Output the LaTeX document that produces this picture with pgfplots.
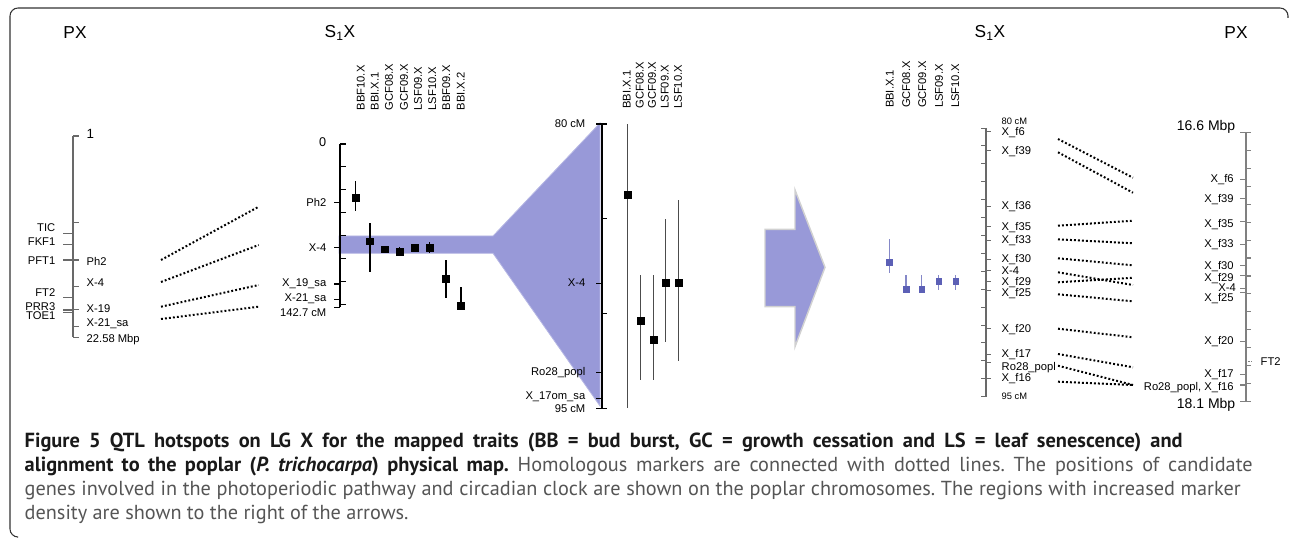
\documentclass[border=0pt]{standalone}
\usepackage{pgfplots}
\usepackage{pgfplotstable}
\pgfplotsset{compat=1.18}
\usepackage{fontspec}
\setmainfont{Liberation Sans}
\newfontfamily\capfont{PT Sans}
\frenchspacing

\definecolor{band}{RGB}{152,153,216}
\definecolor{qblue}{RGB}{92,96,182}
\definecolor{chrgray}{RGB}{105,105,105}
\definecolor{capgray}{RGB}{85,85,85}

% QTL positions (cM): x position of column, peak, interval start, interval end
\pgfplotstableread{
x c lo hi
355.3 46.6 32.3 58.3
370.0 85.0 68.8 111.6
384.7 92.0 89.1 93.5
399.7 93.8 90.0 95.2
414.7 90.6 88.3 92.6
429.7 90.6 85.6 95.2
446.0 118.0 101.4 134.8
461.0 141.6 124.7 141.6
}\qtlall
\pgfplotstableread{
x c lo hi
627.3 83.75 80.0 95.0
640.7 90.40 87.97 93.50
653.3 91.40 87.97 93.50
665.3 88.37 85.00 91.49
678.7 88.37 84.00 92.49
}\qtlzoom
\pgfplotstableread{
x c lo hi
889.3 87.51 86.21 88.07
906.0 89.00 88.20 89.00
921.7 89.00 88.20 89.00
938.7 88.57 88.20 89.04
955.7 88.57 88.20 89.04
}\qtlsmall

\newcommand{\lab}{\fontsize{8.4}{9}\selectfont}
\newcommand{\ttl}{\fontsize{13}{14}\selectfont}
\newcommand{\capreg}{\capfont\fontsize{15.2}{17}\selectfont}
\newcommand{\capbf}{\capfont\bfseries\fontsize{15.3}{17}\selectfont}

\begin{document}
\begin{tikzpicture}
\begin{axis}[
  scale only axis, width=967.5pt, height=403.5pt,
  xmin=0, xmax=1290, ymin=0, ymax=538, y dir=reverse,
  hide axis, clip=false,
  every node/.append style={inner sep=0pt},
]
\path (axis cs:0,0) rectangle (axis cs:1290,538);

% frame
\draw[black!80, line width=0.8pt, rounded corners=6pt]
  (axis cs:1288,18) -- (axis cs:1288,8) -- (axis cs:10,8) -- (axis cs:10,537) -- (axis cs:17,537);

% titles
\node[font=\ttl] at (axis cs:75,33) {PX};
\node[font=\ttl] at (axis cs:340,33) {S\textsubscript{1}X};
\node[font=\ttl] at (axis cs:990,33) {S\textsubscript{1}X};
\node[font=\ttl] at (axis cs:1236,33) {PX};

% hotspot band and zoom wedge
\addplot[fill=band, draw=band!70, line width=0.6pt] coordinates {
  (339,236) (493,236) (600,123) (600,406) (493,253.3) (339,253.3)} -- cycle;

% arrow
\addplot[fill=band, draw=black!18, line width=1.1pt] coordinates {
  (765,229.3) (795,229.3) (795,190) (825,267.3) (795,346.7) (795,306.7) (765,306.7)} -- cycle;

% ---------- left PX chromosome ----------
\addplot[chrgray, line width=0.8pt] coordinates {(73,136) (73,337.3)};
\pgfplotsinvokeforeach{136,222.7,260,286.7,309.3,326.7,337.3}{
  \draw[chrgray, line width=0.8pt] (axis cs:73,#1) -- (axis cs:79,#1);}
\pgfplotsinvokeforeach{233.3,244.3,260,297.3,310,312.5}{
  \draw[chrgray, line width=0.8pt] (axis cs:63,#1) -- (axis cs:73,#1);}
\node[anchor=mid west, font=\fontsize{10}{11}\selectfont] at (axis cs:82,135) {1};
\node[anchor=mid west, font=\lab] at (axis cs:82,262.3) {Ph2};
\node[anchor=mid west, font=\lab] at (axis cs:82,283) {X-4};
\node[anchor=mid west, font=\lab] at (axis cs:82,309.3) {X-19};
\node[anchor=mid west, font=\lab] at (axis cs:82,323) {X-21\_sa};
\node[anchor=mid west, font=\lab] at (axis cs:82,339) {22.58 Mbp};
\node[anchor=mid east, font=\lab] at (axis cs:60,227.7) {TIC};
\node[anchor=mid east, font=\lab] at (axis cs:60,241.7) {FKF1};
\node[anchor=mid east, font=\lab] at (axis cs:60,261) {PFT1};
\node[anchor=mid east, font=\lab] at (axis cs:60,292.7) {FT2};
\node[anchor=mid east, font=\lab] at (axis cs:60,307.3) {PRR3};
\node[anchor=mid east, font=\lab] at (axis cs:60,316) {TOE1};

% connectors PX -> S1X
\addplot[black, line width=1.5pt, dash pattern=on 1.4pt off 1.6pt] coordinates {(161,260) (258.7,206.7)};
\addplot[black, line width=1.5pt, dash pattern=on 1.4pt off 1.6pt] coordinates {(161,282) (258.7,245)};
\addplot[black, line width=1.5pt, dash pattern=on 1.4pt off 1.6pt] coordinates {(161,306.7) (258.7,285)};
\addplot[black, line width=1.5pt, dash pattern=on 1.4pt off 1.6pt] coordinates {(161,319) (258.7,306.7)};

% ---------- S1X full linkage group ----------
\addplot[black, line width=1.1pt] coordinates {(340,144) (340,307.3)};
\pgfplotsinvokeforeach{0,20,...,140}{
  \draw[black, line width=0.9pt] (axis cs:340,{144+#1*1.1444}) -- (axis cs:346,{144+#1*1.1444});}
\pgfplotsinvokeforeach{202.7,247.7,284,299.3,307.3}{
  \draw[black, line width=0.9pt] (axis cs:334,#1) -- (axis cs:340,#1);}
\node[anchor=mid east, font=\fontsize{9.5}{10}\selectfont] at (axis cs:331,143) {0};
\node[anchor=mid east, font=\lab] at (axis cs:331,203) {Ph2};
\node[anchor=mid east, font=\lab] at (axis cs:331,248) {X-4};
\node[anchor=mid east, font=\lab] at (axis cs:331,283) {X\_19\_sa};
\node[anchor=mid east, font=\lab] at (axis cs:331,298.3) {X-21\_sa};
\node[anchor=mid east, font=\lab] at (axis cs:331,312.7) {142.7 cM};
\addplot[only marks, mark=square*, mark size=2.6pt, black,
  error bars/.cd, y dir=both, y explicit, error mark=none,
  error bar style={line width=0.9pt, black}]
  table[x=x, y expr={144+\thisrow{c}*1.1444},
        y error plus expr={(\thisrow{hi}-\thisrow{c})*1.1444},
        y error minus expr={(\thisrow{c}-\thisrow{lo})*1.1444}] {\qtlall};
\foreach \px/\nm in {361/BBF10.X,375/BBI.X.1,389.3/GCF08.X,404.3/GCF09.X,418.3/LSF09.X,432.7/LSF10.X,446.7/BBF09.X,461/BBI.X.2}{
  \edef\tmp{\noexpand\node[rotate=90, anchor=mid west, font=\noexpand\lab] at (axis cs:\px,115) {\nm};}\tmp}

% ---------- S1X 80-95 cM zoom ----------
\addplot[black, line width=1.3pt] coordinates {(601.7,124) (601.7,408.3)};
\pgfplotsinvokeforeach{124,408.3}{
  \draw[black, line width=1pt] (axis cs:596,#1) -- (axis cs:607,#1);}
\pgfplotsinvokeforeach{283.3,372.3,398.3}{
  \draw[black, line width=1pt] (axis cs:596,#1) -- (axis cs:601.7,#1);}
\pgfplotsinvokeforeach{218.8,313.6}{
  \draw[black, line width=1pt] (axis cs:601.7,#1) -- (axis cs:607,#1);}
\node[anchor=mid east, font=\lab] at (axis cs:590,124) {80 cM};
\node[anchor=mid east, font=\lab] at (axis cs:590,283.3) {X-4};
\node[anchor=mid east, font=\lab] at (axis cs:590,371.7) {Ro28\_popl};
\node[anchor=mid east, font=\lab] at (axis cs:590,396) {X\_17om\_sa};
\node[anchor=mid east, font=\lab] at (axis cs:590,409) {95 cM};
\addplot[only marks, mark=square*, mark size=2.6pt, black,
  error bars/.cd, y dir=both, y explicit, error mark=none,
  error bar style={line width=1pt, black!70}]
  table[x=x, y expr={124+(\thisrow{c}-80)*18.95},
        y error plus expr={(\thisrow{hi}-\thisrow{c})*18.95},
        y error minus expr={(\thisrow{c}-\thisrow{lo})*18.95}] {\qtlzoom};
\foreach \px/\nm in {627/BBI.X.1,640/GCF08.X,652.3/GCF09.X,665/LSF09.X,678.3/LSF10.X}{
  \edef\tmp{\noexpand\node[rotate=90, anchor=mid west, font=\noexpand\lab] at (axis cs:\px,113.3) {\nm};}\tmp}

% ---------- right S1X (dense region) ----------
\addplot[only marks, mark=square*, mark size=2.2pt, qblue,
  error bars/.cd, y dir=both, y explicit, error mark=none,
  error bar style={line width=0.8pt, qblue!75}]
  table[x=x, y expr={128+(\thisrow{c}-80)*17.93},
        y error plus expr={(\thisrow{hi}-\thisrow{c})*17.93},
        y error minus expr={(\thisrow{c}-\thisrow{lo})*17.93}] {\qtlsmall};
\foreach \px/\nm in {890/BBI.X.1,906.7/GCF08.X,922.7/GCF09.X,939.3/LSF09.X,955.7/LSF10.X}{
  \edef\tmp{\noexpand\node[rotate=90, anchor=mid west, font=\noexpand\lab] at (axis cs:\px,112.7) {\nm};}\tmp}

\addplot[chrgray, line width=0.8pt] coordinates {(986,128) (986,396.7)};
\pgfplotsinvokeforeach{80,...,95}{
  \draw[chrgray, line width=0.7pt] (axis cs:981,{128+(#1-80)*17.913}) -- (axis cs:986,{128+(#1-80)*17.913});}
\pgfplotsinvokeforeach{131.7,150.7,206,226.7,240,259.3,270.7,281.7,290,328.7,354,362.7,378.3}{
  \draw[chrgray, line width=0.7pt] (axis cs:986,#1) -- (axis cs:991,#1);}
\node[anchor=mid west, font=\fontsize{7}{8}\selectfont] at (axis cs:997,120.7) {80 cM};
\node[anchor=mid west, font=\lab] at (axis cs:997,131.7) {X\_f6};
\node[anchor=mid west, font=\lab] at (axis cs:997,150.7) {X\_f39};
\node[anchor=mid west, font=\lab] at (axis cs:997,206) {X\_f36};
\node[anchor=mid west, font=\lab] at (axis cs:997,226.7) {X\_f35};
\node[anchor=mid west, font=\lab] at (axis cs:997,240) {X\_f33};
\node[anchor=mid west, font=\lab] at (axis cs:997,259.3) {X\_f30};
\node[anchor=mid west, font=\lab] at (axis cs:997,270.7) {X-4};
\node[anchor=mid west, font=\lab] at (axis cs:997,281.7) {X\_f29};
\node[anchor=mid west, font=\lab] at (axis cs:997,292.7) {X\_f25};
\node[anchor=mid west, font=\lab] at (axis cs:997,328.7) {X\_f20};
\node[anchor=mid west, font=\lab] at (axis cs:997,354) {X\_f17};
\node[anchor=mid west, font=\lab] at (axis cs:997,366.7) {Ro28\_popl};
\node[anchor=mid west, font=\lab] at (axis cs:997,378.3) {X\_f16};
\node[anchor=mid west, font=\fontsize{7}{8}\selectfont] at (axis cs:997,395.7) {95 cM};

% connectors S1X -> PX (dense region)
\addplot[black, line width=1.5pt, dash pattern=on 1.4pt off 1.6pt] coordinates {(1058,139) (1133,177.7)};
\addplot[black, line width=1.5pt, dash pattern=on 1.4pt off 1.6pt] coordinates {(1058,152.3) (1133,192.7)};
\addplot[black, line width=1.5pt, dash pattern=on 1.4pt off 1.6pt] coordinates {(1058,225.7) (1133,220.7)};
\addplot[black, line width=1.5pt, dash pattern=on 1.4pt off 1.6pt] coordinates {(1058,239.3) (1133,243.3)};
\addplot[black, line width=1.5pt, dash pattern=on 1.4pt off 1.6pt] coordinates {(1058,258.3) (1133,265.3)};
\addplot[black, line width=1.5pt, dash pattern=on 1.4pt off 1.6pt] coordinates {(1058,272.3) (1133,285)};
\addplot[black, line width=1.5pt, dash pattern=on 1.4pt off 1.6pt] coordinates {(1058,282.3) (1133,277.7)};
\addplot[black, line width=1.5pt, dash pattern=on 1.4pt off 1.6pt] coordinates {(1058,294.3) (1133,301.3)};
\addplot[black, line width=1.5pt, dash pattern=on 1.4pt off 1.6pt] coordinates {(1058,328.7) (1133,337.3)};
\addplot[black, line width=1.5pt, dash pattern=on 1.4pt off 1.6pt] coordinates {(1058,354) (1133,367.3)};
\addplot[black, line width=1.5pt, dash pattern=on 1.4pt off 1.6pt] coordinates {(1058,365.7) (1133,385)};
\addplot[black, line width=1.5pt, dash pattern=on 1.4pt off 1.6pt] coordinates {(1058,381.7) (1133,385)};

% ---------- right PX physical map (16.6-18.1 Mbp) ----------
\addplot[black!50, line width=1.3pt] coordinates {(1245.7,132.3) (1245.7,401.7)};
\pgfplotsinvokeforeach{0,...,15}{
  \draw[black!50, line width=0.8pt] (axis cs:1245.7,{132.3+#1*17.96}) -- (axis cs:1251,{132.3+#1*17.96});}
\pgfplotsinvokeforeach{132.3,179.3,198.3,221.7,244.3,265.7,275.7,288.3,292.7,341.7,374.3,385,401.7}{
  \draw[black!50, line width=0.8pt] (axis cs:1240,#1) -- (axis cs:1245.7,#1);}
\draw[black!50, line width=0.8pt, dash pattern=on 1pt off 1pt] (axis cs:1245.7,361.7) -- (axis cs:1252,361.7);
\node[anchor=base east, font=\fontsize{10.5}{11}\selectfont] at (axis cs:1240,131) {16.6 Mbp};
\node[anchor=base east, font=\fontsize{10.5}{11}\selectfont] at (axis cs:1240,409) {18.1 Mbp};
\node[anchor=mid east, font=\lab] at (axis cs:1238.3,179) {X\_f6};
\node[anchor=mid east, font=\lab] at (axis cs:1238.3,198.7) {X\_f39};
\node[anchor=mid east, font=\lab] at (axis cs:1238.3,224) {X\_f35};
\node[anchor=mid east, font=\lab] at (axis cs:1238.3,244) {X\_f33};
\node[anchor=mid east, font=\lab] at (axis cs:1238.3,265.7) {X\_f30};
\node[anchor=mid east, font=\lab] at (axis cs:1238.3,277.7) {X\_f29};
\node[anchor=mid east, font=\lab] at (axis cs:1240.5,288.3) {X-4};
\node[anchor=mid east, font=\lab] at (axis cs:1238.3,298) {X\_f25};
\node[anchor=mid east, font=\lab] at (axis cs:1238.3,340.7) {X\_f20};
\node[anchor=mid east, font=\lab] at (axis cs:1238.3,374) {X\_f17};
\node[anchor=mid east, font=\lab] at (axis cs:1238.3,387.3) {Ro28\_popl, X\_f16};
\node[anchor=mid west, font=\lab] at (axis cs:1256,361.7) {FT2};

% ---------- caption (justified lines; 1 px = 0.75 pt) ----------
\node[anchor=base west, text=black!90] at (axis cs:20,447.5)
  {\makebox[868.5pt][s]{\capbf Figure 5 QTL hotspots on LG X for the mapped traits (BB = bud burst, GC = growth cessation and LS = leaf senescence) and}};
\node[anchor=base west, text=capgray] at (axis cs:20,471.5)
  {\makebox[921pt][s]{\textcolor{black!90}{\capbf alignment to the poplar (\textit{P. trichocarpa}) physical map.}\capreg{} Homologous markers are connected with dotted lines. The positions of candidate}};
\node[anchor=base west, text=capgray] at (axis cs:20,495.5)
  {\makebox[912pt][s]{\capreg genes involved in the photoperiodic pathway and circadian clock are shown on the poplar chromosomes. The regions with increased marker}};
\node[anchor=base west, font=\capreg, text=capgray] at (axis cs:20,519.5)
  {density are shown to the right of the arrows.};
\end{axis}
\end{tikzpicture}
\end{document}
